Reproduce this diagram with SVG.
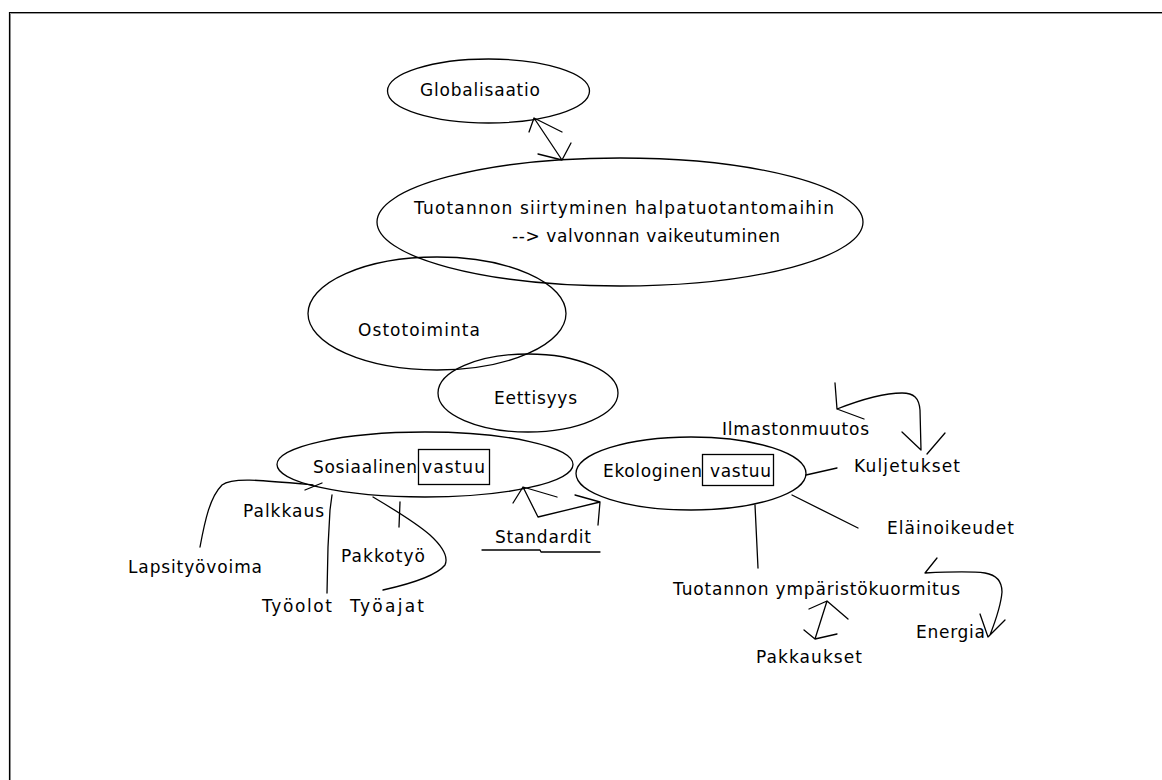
<svg xmlns="http://www.w3.org/2000/svg" width="1162" height="780" viewBox="0 0 1162 780">
<style>
.n{fill:none;stroke:#000;stroke-width:1.3}
.c{fill:none;stroke:#000;stroke-width:1.3;stroke-linecap:round;stroke-linejoin:round}
text{font-family:"DejaVu Sans","Liberation Sans",sans-serif;font-size:17px;fill:#000}
</style>
<rect width="1162" height="780" fill="#fff"/>
<g id="frame">
<path d="M10.5,780 V13.5 H1162" fill="none" stroke="#999" stroke-width="1"/>
<path d="M9.5,780 V12.5 H1162" fill="none" stroke="#000" stroke-width="1.2"/>
</g>
<g id="globalisaatio">
<ellipse class="n" cx="488.5" cy="91" rx="101" ry="32"/>
<text x="420" y="96" textLength="120" lengthAdjust="spacing">Globalisaatio</text>
</g>
<g id="tuotannon-siirtyminen">
<ellipse class="n" cx="620" cy="222" rx="243" ry="64"/>
<text x="414" y="214" textLength="420" lengthAdjust="spacing">Tuotannon siirtyminen halpatuotantomaihin</text>
<text x="512" y="242" textLength="268" lengthAdjust="spacing">--&gt; valvonnan vaikeutuminen</text>
</g>
<g id="ostotoiminta">
<ellipse class="n" cx="437" cy="313.5" rx="129" ry="56.5"/>
<text x="358" y="336" textLength="122" lengthAdjust="spacing">Ostotoiminta</text>
</g>
<g id="eettisyys">
<ellipse class="n" cx="528" cy="393" rx="90" ry="39"/>
<text x="494" y="404" textLength="83" lengthAdjust="spacing">Eettisyys</text>
</g>
<g id="sosiaalinen-vastuu">
<ellipse class="n" cx="425" cy="464.5" rx="148" ry="32.5"/>
<text x="313" y="473" textLength="104" lengthAdjust="spacing">Sosiaalinen</text>
<rect class="n" x="418.5" y="449.5" width="71" height="35"/>
<text x="422" y="473" textLength="63" lengthAdjust="spacing">vastuu</text>
</g>
<g id="ekologinen-vastuu">
<ellipse class="n" cx="691" cy="473.5" rx="115" ry="36.5"/>
<text x="603" y="477" textLength="99" lengthAdjust="spacing">Ekologinen</text>
<rect class="n" x="702.5" y="454.5" width="71" height="31"/>
<text x="710" y="477" textLength="61" lengthAdjust="spacing">vastuu</text>
</g>
<g id="ilmastonmuutos"><text x="722" y="435" textLength="147" lengthAdjust="spacing">Ilmastonmuutos</text></g>
<g id="kuljetukset"><text x="854" y="472" textLength="106" lengthAdjust="spacing">Kuljetukset</text></g>
<g id="elainoikeudet"><text x="887" y="534" textLength="127" lengthAdjust="spacing">Eläinoikeudet</text></g>
<g id="standardit">
<text x="495" y="543" textLength="96" lengthAdjust="spacing">Standardit</text>
<polyline class="c" points="482,550 540,550 541,552 600,552"/>
</g>
<g id="tuotannon-ymparistokuormitus"><text x="673" y="595" textLength="287" lengthAdjust="spacing">Tuotannon ympäristökuormitus</text></g>
<g id="energia"><text x="916" y="638" textLength="69" lengthAdjust="spacing">Energia</text></g>
<g id="pakkaukset"><text x="756" y="663" textLength="106" lengthAdjust="spacing">Pakkaukset</text></g>
<g id="lapsityovoima"><text x="128" y="573" textLength="134" lengthAdjust="spacing">Lapsityövoima</text></g>
<g id="palkkaus"><text x="243" y="517" textLength="81" lengthAdjust="spacing">Palkkaus</text></g>
<g id="tyoolot"><text x="262" y="612" textLength="70" lengthAdjust="spacing">Työolot</text></g>
<g id="pakkotyo"><text x="341" y="562" textLength="84" lengthAdjust="spacing">Pakkotyö</text></g>
<g id="tyoajat"><text x="350" y="612" textLength="74" lengthAdjust="spacing">Työajat</text></g>
<g id="connectors">
<path class="c" d="M534,118 L562,160 M529,132 L534,118 L562,132 M538,154 L562,160 L571,143"/>
<path class="c" d="M835,383 L837,409 L864,419 M837,409 C860,400 885,393 902,393 C914,393 919,398 920,410 L921,450 M902,432 L921,450 M945,433 L927,454"/>
<path class="c" d="M806,475 L837,468"/>
<path class="c" d="M792,495 L858,528"/>
<path class="c" d="M755,505 L758,568"/>
<path class="c" d="M937,558 L925,573 C945,572 970,571 985,573 C997,575 1002,582 1002,592 C1001,605 997,617 990,635 M980,614 L988,637 L1005,620"/>
<path class="c" d="M809,609 L827,601 L848,619 M827,601 L815,639 M804,630 L815,639 L837,634"/>
<path class="c" d="M513,503 L523,487 L557,497 M523,487 L538,517 L600,502 M575,495 L600,502 L598,525"/>
<path class="c" d="M200,547 C205,520 210,497 222,485 C232,477 260,480 313,485"/>
<path class="c" d="M305,490 L322,483"/>
<path class="c" d="M332,495 L330,510 L328,547 L327,593"/>
<path class="c" d="M400,502 L399,527"/>
<path class="c" d="M373,497 C395,510 415,522 430,535 C442,546 449,556 445,565 C437,575 410,584 383,590"/>
</g>
</svg>
